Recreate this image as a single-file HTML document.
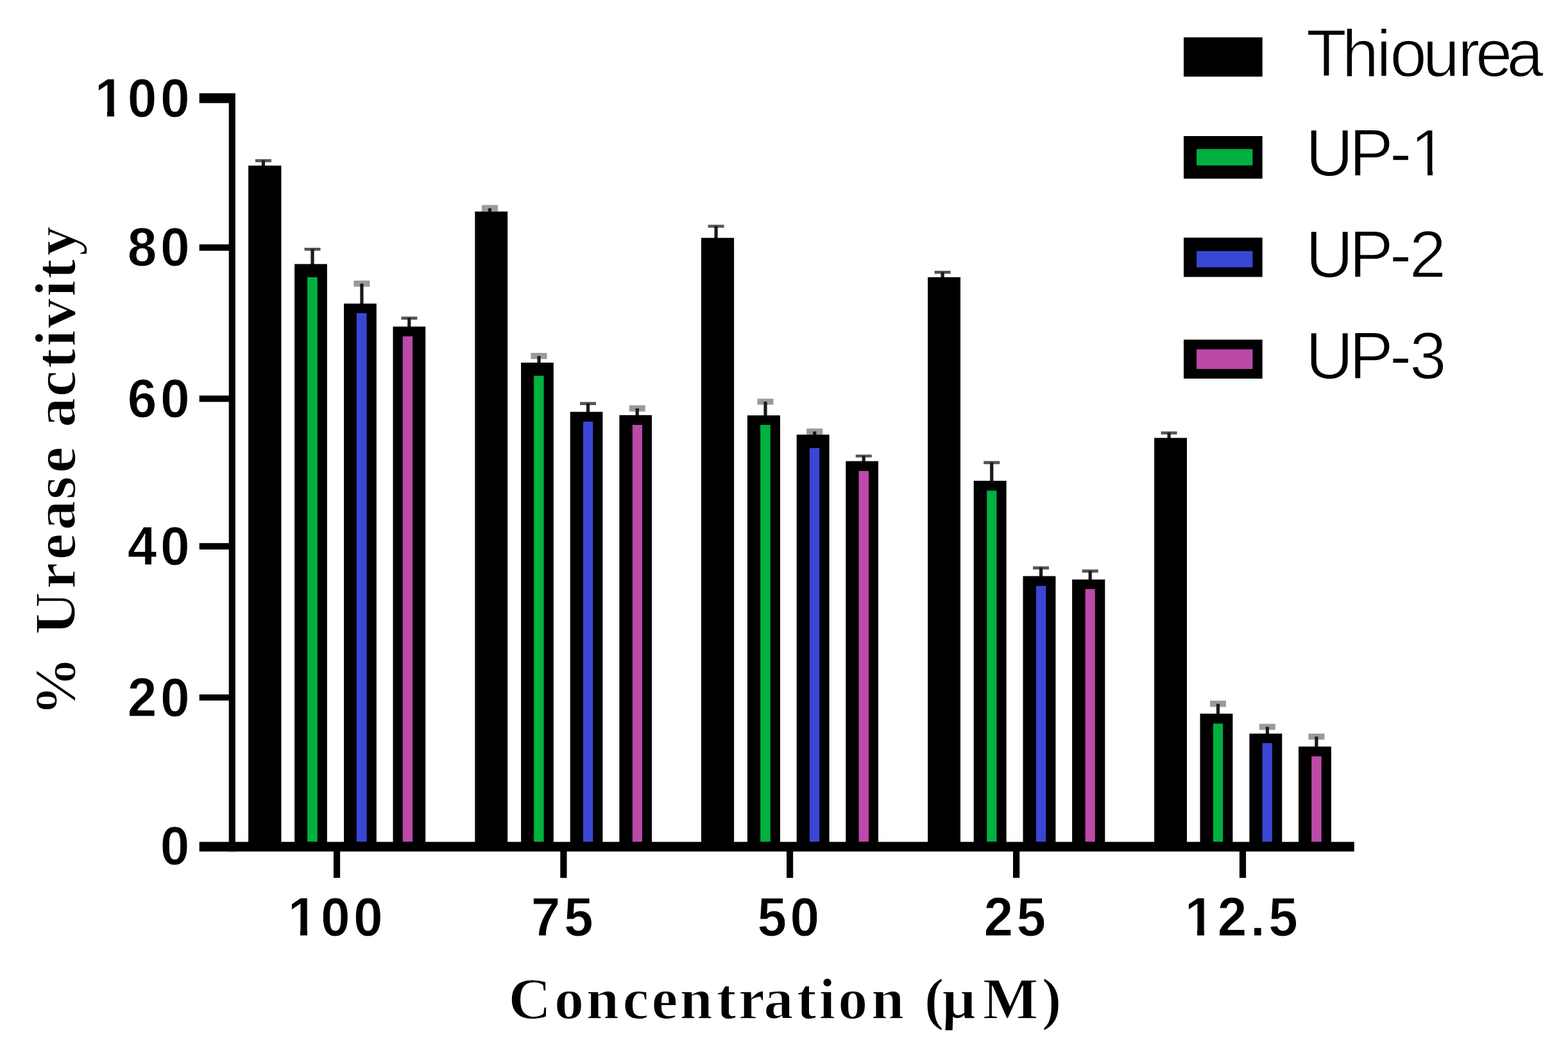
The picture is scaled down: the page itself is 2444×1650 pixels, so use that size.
<!DOCTYPE html>
<html><head><meta charset="utf-8"><title>Urease activity chart</title>
<style>html,body{margin:0;padding:0;background:#fff;overflow:hidden;width:2444px;height:1650px;} svg{display:block;}</style>
</head><body>
<svg width="2444" height="1650" viewBox="0 0 2444 1650">
<rect x="0" y="0" width="2444" height="1650" fill="#fff"/>
<rect x="397.9" y="248.0" width="25.0" height="4.7" fill="#555"/>
<rect x="407.8" y="250.0" width="5.2" height="9.0" fill="#1a1a1a"/>
<rect x="474.5" y="386.0" width="25.0" height="4.7" fill="#555"/>
<rect x="484.4" y="388.0" width="5.2" height="24.4" fill="#1a1a1a"/>
<rect x="551.4" y="437.2" width="25.0" height="9.5" fill="#9a9a9a"/>
<rect x="561.3" y="441.9" width="5.2" height="32.1" fill="#1a1a1a"/>
<rect x="625.4" y="493.3" width="25.0" height="4.8" fill="#555"/>
<rect x="635.2" y="495.3" width="5.2" height="14.5" fill="#1a1a1a"/>
<rect x="750.9" y="319.4" width="25.0" height="10.2" fill="#9a9a9a"/>
<rect x="760.8" y="324.5" width="5.2" height="6.1" fill="#1a1a1a"/>
<rect x="827.5" y="549.8" width="25.0" height="9.6" fill="#9a9a9a"/>
<rect x="837.4" y="554.6" width="5.2" height="11.4" fill="#1a1a1a"/>
<rect x="904.0" y="626.3" width="25.0" height="4.9" fill="#555"/>
<rect x="913.9" y="628.3" width="5.2" height="14.4" fill="#1a1a1a"/>
<rect x="980.7" y="631.4" width="25.0" height="9.8" fill="#9a9a9a"/>
<rect x="990.6" y="636.3" width="5.2" height="11.5" fill="#1a1a1a"/>
<rect x="1103.6" y="350.2" width="25.0" height="4.6" fill="#555"/>
<rect x="1113.5" y="352.2" width="5.2" height="19.4" fill="#1a1a1a"/>
<rect x="1180.5" y="621.2" width="25.0" height="9.4" fill="#9a9a9a"/>
<rect x="1190.4" y="625.9" width="5.2" height="22.3" fill="#1a1a1a"/>
<rect x="1257.2" y="667.6" width="25.0" height="9.4" fill="#9a9a9a"/>
<rect x="1267.1" y="672.3" width="5.2" height="5.9" fill="#1a1a1a"/>
<rect x="1333.7" y="708.3" width="25.0" height="4.4" fill="#555"/>
<rect x="1343.6" y="710.3" width="5.2" height="9.2" fill="#1a1a1a"/>
<rect x="1456.6" y="421.9" width="25.0" height="4.7" fill="#555"/>
<rect x="1466.5" y="423.9" width="5.2" height="9.0" fill="#1a1a1a"/>
<rect x="1533.2" y="718.3" width="25.0" height="4.9" fill="#555"/>
<rect x="1543.1" y="720.3" width="5.2" height="29.8" fill="#1a1a1a"/>
<rect x="1610.0" y="882.4" width="25.0" height="4.9" fill="#555"/>
<rect x="1619.9" y="884.4" width="5.2" height="14.2" fill="#1a1a1a"/>
<rect x="1686.7" y="887.3" width="25.0" height="5.0" fill="#555"/>
<rect x="1696.6" y="889.3" width="5.2" height="14.6" fill="#1a1a1a"/>
<rect x="1809.6" y="672.2" width="25.0" height="4.7" fill="#555"/>
<rect x="1819.5" y="674.2" width="5.2" height="9.1" fill="#1a1a1a"/>
<rect x="1886.0" y="1091.6" width="25.0" height="9.8" fill="#9a9a9a"/>
<rect x="1895.9" y="1096.5" width="5.2" height="16.4" fill="#1a1a1a"/>
<rect x="1962.8" y="1127.7" width="25.0" height="9.5" fill="#9a9a9a"/>
<rect x="1972.8" y="1132.5" width="5.2" height="11.5" fill="#1a1a1a"/>
<rect x="2039.4" y="1143.0" width="25.0" height="9.4" fill="#9a9a9a"/>
<rect x="2049.3" y="1147.7" width="5.2" height="16.5" fill="#1a1a1a"/>
<rect x="387.1" y="258.0" width="51.3" height="1055.7" fill="#000"/>
<rect x="459.1" y="411.4" width="50.7" height="902.3" fill="#000"/>
<rect x="479.1" y="432.0" width="15.7" height="879.7" fill="#00b140"/>
<rect x="536.0" y="473.0" width="50.8" height="840.7" fill="#000"/>
<rect x="555.8" y="488.0" width="15.7" height="823.7" fill="#3a47d5"/>
<rect x="612.5" y="508.8" width="50.7" height="804.9" fill="#000"/>
<rect x="627.7" y="524.1" width="15.3" height="787.6" fill="#bc49a8"/>
<rect x="740.3" y="329.6" width="50.9" height="984.1" fill="#000"/>
<rect x="812.1" y="565.0" width="50.7" height="748.7" fill="#000"/>
<rect x="832.1" y="585.5" width="15.5" height="726.2" fill="#00b140"/>
<rect x="888.7" y="641.7" width="50.7" height="672.0" fill="#000"/>
<rect x="909.0" y="657.0" width="15.2" height="654.7" fill="#3a47d5"/>
<rect x="965.4" y="646.8" width="50.6" height="666.9" fill="#000"/>
<rect x="985.8" y="662.0" width="15.2" height="649.7" fill="#bc49a8"/>
<rect x="1093.0" y="370.6" width="51.1" height="943.1" fill="#000"/>
<rect x="1164.9" y="647.2" width="51.1" height="666.5" fill="#000"/>
<rect x="1185.1" y="662.0" width="15.7" height="649.7" fill="#00b140"/>
<rect x="1241.7" y="677.2" width="50.9" height="636.5" fill="#000"/>
<rect x="1261.9" y="698.1" width="15.3" height="613.6" fill="#3a47d5"/>
<rect x="1318.3" y="718.5" width="50.7" height="595.2" fill="#000"/>
<rect x="1338.5" y="733.8" width="15.5" height="577.9" fill="#bc49a8"/>
<rect x="1446.1" y="431.9" width="50.9" height="881.8" fill="#000"/>
<rect x="1517.7" y="749.1" width="50.9" height="564.6" fill="#000"/>
<rect x="1538.2" y="764.4" width="15.2" height="547.3" fill="#00b140"/>
<rect x="1594.5" y="897.6" width="50.9" height="416.1" fill="#000"/>
<rect x="1614.9" y="912.9" width="15.3" height="398.8" fill="#3a47d5"/>
<rect x="1671.1" y="902.9" width="51.2" height="410.8" fill="#000"/>
<rect x="1691.6" y="917.8" width="15.2" height="393.9" fill="#bc49a8"/>
<rect x="1799.1" y="682.3" width="50.9" height="631.4" fill="#000"/>
<rect x="1870.5" y="1111.9" width="50.9" height="201.8" fill="#000"/>
<rect x="1891.0" y="1127.4" width="15.2" height="184.3" fill="#00b140"/>
<rect x="1947.4" y="1143.0" width="50.9" height="170.7" fill="#000"/>
<rect x="1967.6" y="1157.8" width="15.2" height="153.9" fill="#3a47d5"/>
<rect x="2024.0" y="1163.2" width="50.9" height="150.5" fill="#000"/>
<rect x="2044.2" y="1178.4" width="15.5" height="133.3" fill="#bc49a8"/>
<rect x="356.7" y="145.3" width="10.1" height="1181.4" fill="#000"/>
<rect x="310.7" y="1311.7" width="1800.1" height="15.0" fill="#000"/>
<rect x="310.7" y="145.3" width="46.3" height="15.3" fill="#000"/>
<rect x="310.7" y="380.7" width="46.3" height="10.0" fill="#000"/>
<rect x="310.7" y="616.3" width="46.3" height="9.9" fill="#000"/>
<rect x="310.7" y="846.2" width="46.3" height="10.0" fill="#000"/>
<rect x="310.7" y="1082.0" width="46.3" height="9.5" fill="#000"/>
<rect x="519.9" y="1325.7" width="10.2" height="42.1" fill="#000"/>
<rect x="873.3" y="1325.7" width="10.2" height="42.1" fill="#000"/>
<rect x="1226.0" y="1325.7" width="10.2" height="42.1" fill="#000"/>
<rect x="1579.0" y="1325.7" width="10.2" height="42.1" fill="#000"/>
<rect x="1931.9" y="1325.7" width="10.2" height="42.1" fill="#000"/>
<text transform="translate(301.0,181.7) scale(0.96,1)" text-anchor="end" letter-spacing="5.7" font-family="Liberation Sans, Arial, sans-serif" font-weight="bold" stroke="#fff" stroke-width="1.0" font-size="85.5">100</text>
<text transform="translate(301.0,414.4) scale(0.96,1)" text-anchor="end" letter-spacing="5.7" font-family="Liberation Sans, Arial, sans-serif" font-weight="bold" stroke="#fff" stroke-width="1.0" font-size="85.5">80</text>
<text transform="translate(301.0,649.9) scale(0.96,1)" text-anchor="end" letter-spacing="5.7" font-family="Liberation Sans, Arial, sans-serif" font-weight="bold" stroke="#fff" stroke-width="1.0" font-size="85.5">60</text>
<text transform="translate(301.0,879.9) scale(0.96,1)" text-anchor="end" letter-spacing="5.7" font-family="Liberation Sans, Arial, sans-serif" font-weight="bold" stroke="#fff" stroke-width="1.0" font-size="85.5">40</text>
<text transform="translate(301.0,1115.5) scale(0.96,1)" text-anchor="end" letter-spacing="5.7" font-family="Liberation Sans, Arial, sans-serif" font-weight="bold" stroke="#fff" stroke-width="1.0" font-size="85.5">20</text>
<text transform="translate(301.0,1346.7) scale(0.96,1)" text-anchor="end" letter-spacing="5.7" font-family="Liberation Sans, Arial, sans-serif" font-weight="bold" stroke="#fff" stroke-width="1.0" font-size="85.5">0</text>
<text transform="translate(525.5,1458) scale(0.96,1)" text-anchor="middle" letter-spacing="5.7" font-family="Liberation Sans, Arial, sans-serif" font-weight="bold" stroke="#fff" stroke-width="1.0" font-size="85.5">100</text>
<text transform="translate(878.9,1458) scale(0.96,1)" text-anchor="middle" letter-spacing="5.7" font-family="Liberation Sans, Arial, sans-serif" font-weight="bold" stroke="#fff" stroke-width="1.0" font-size="85.5">75</text>
<text transform="translate(1231.6,1458) scale(0.96,1)" text-anchor="middle" letter-spacing="5.7" font-family="Liberation Sans, Arial, sans-serif" font-weight="bold" stroke="#fff" stroke-width="1.0" font-size="85.5">50</text>
<text transform="translate(1584.6,1458) scale(0.96,1)" text-anchor="middle" letter-spacing="5.7" font-family="Liberation Sans, Arial, sans-serif" font-weight="bold" stroke="#fff" stroke-width="1.0" font-size="85.5">25</text>
<text transform="translate(1937.5,1458) scale(0.96,1)" text-anchor="middle" letter-spacing="5.7" font-family="Liberation Sans, Arial, sans-serif" font-weight="bold" stroke="#fff" stroke-width="1.0" font-size="85.5">12.5</text>
<rect x="1845.0" y="58.2" width="122.7" height="61.2" fill="#000"/>
<text transform="translate(2037.1,119.4) scale(1.0000,1)" x="-1.10 54.65 108.45 129.45 180.60 235.25 262.80 311.35" y="0" font-family="Liberation Sans, Arial, sans-serif" stroke="#fff" stroke-width="1.6" font-size="103">Thiourea</text>
<rect x="1845.0" y="212.0" width="122.7" height="66.4" fill="#000"/>
<rect x="1865.1" y="232.2" width="87.3" height="25.5" fill="#00b140"/>
<text transform="translate(2036.2,274.0) scale(1.0000,1)" x="-1.10 66.75 129.75 162.15" y="0" font-family="Liberation Sans, Arial, sans-serif" stroke="#fff" stroke-width="1.6" font-size="103">UP-1</text>
<rect x="1845.0" y="370.3" width="122.7" height="61.2" fill="#000"/>
<rect x="1865.1" y="391.2" width="87.3" height="25.3" fill="#3a47d5"/>
<text transform="translate(2036.2,431.5) scale(1.0000,1)" x="-1.10 66.75 129.75 160.60" y="0" font-family="Liberation Sans, Arial, sans-serif" stroke="#fff" stroke-width="1.6" font-size="103">UP-2</text>
<rect x="1845.0" y="529.2" width="122.7" height="60.7" fill="#000"/>
<rect x="1865.1" y="544.3" width="87.3" height="30.6" fill="#bc49a8"/>
<text transform="translate(2036.2,589.9) scale(1.0000,1)" x="-1.10 66.75 129.75 161.10" y="0" font-family="Liberation Sans, Arial, sans-serif" stroke="#fff" stroke-width="1.6" font-size="103">UP-3</text>
<text transform="translate(116.5,734.4) rotate(-90)" x="-380.9 -283.1 -254.4 -183.0 -137.8 -91.5 -43.5 -2.7 42.0 68.7 116.2 160.5 194.6 223.2 272.2 299.8 335.9" y="0" font-family="Liberation Serif, Times New Roman, serif" font-weight="bold" stroke="#fff" stroke-width="1.5" font-size="92">% Urease activity</text>
<text x="792.5 864.0 913.7 970.5 1015.5 1059.5 1116.8 1151.1 1190.6 1241.7 1276.5 1306.2 1357.9 1413.5 1440.8 1468.1 1531.8 1623.8" y="1587" font-family="Liberation Serif, Times New Roman, serif" font-weight="bold" stroke="#fff" stroke-width="1.5" font-size="92">Concentration (µM)</text>
<rect x="151.5" y="172.5" width="15.5" height="10.0" fill="#fff"/>
<rect x="178.0" y="172.5" width="14.5" height="10.0" fill="#fff"/>
<rect x="452.5" y="1448.5" width="15.5" height="10.0" fill="#fff"/>
<rect x="479.0" y="1448.5" width="14.5" height="10.0" fill="#fff"/>
<rect x="1850.5" y="1447.5" width="15.5" height="11.0" fill="#fff"/>
<rect x="1877.0" y="1447.5" width="14.5" height="11.0" fill="#fff"/>
<rect x="2205.5" y="265.5" width="19.5" height="9.0" fill="#fff"/>
<rect x="2233.0" y="265.5" width="18.5" height="9.0" fill="#fff"/>
</svg>
</body></html>
